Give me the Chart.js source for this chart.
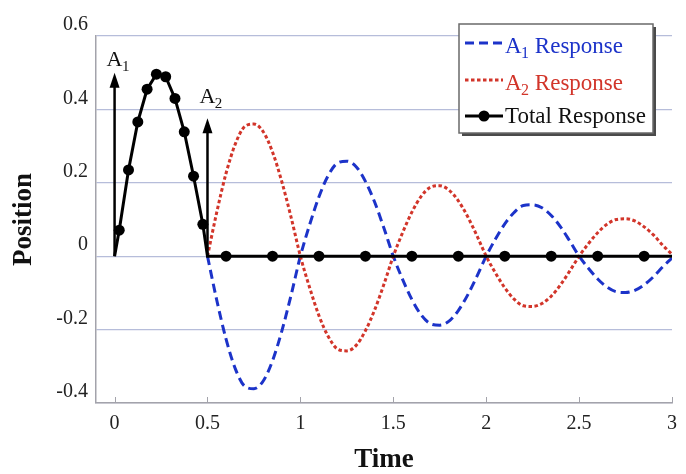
<!DOCTYPE html>
<html>
<head>
<meta charset="utf-8">
<script src="https://cdn.jsdelivr.net/npm/chart.js@4.4.1/dist/chart.umd.min.js"></script>
<style>
  html, body { margin: 0; padding: 0; background: #fff; }
  #wrap { width: 686px; height: 474px; position: relative; }
</style>
</head>
<body>
<div id="wrap"><canvas id="chart"></canvas></div>
<script>
// response curves
const respTimes = [0.5, 0.55, 0.6, 0.65, 0.7, 0.75, 0.8, 0.85, 0.9, 0.95,
  1.0, 1.05, 1.1, 1.15, 1.2, 1.25, 1.3, 1.35, 1.4, 1.45,
  1.5, 1.55, 1.6, 1.65, 1.7, 1.75, 1.8, 1.85, 1.9, 1.95,
  2.0, 2.05, 2.1, 2.15, 2.2, 2.25, 2.3, 2.35, 2.4, 2.45,
  2.5, 2.55, 2.6, 2.65, 2.7, 2.75, 2.8, 2.85, 2.9, 2.95, 3.0];
const a1Values = [0, -0.12, -0.226, -0.307, -0.354, -0.361, -0.34, -0.285, -0.204, -0.106,
  0, 0.086, 0.162, 0.22, 0.254, 0.259, 0.244, 0.204, 0.147, 0.076,
  0, -0.063, -0.118, -0.16, -0.184, -0.188, -0.177, -0.148, -0.106, -0.055,
  0, 0.047, 0.088, 0.119, 0.138, 0.14, 0.132, 0.111, 0.08, 0.041,
  0, -0.033, -0.062, -0.084, -0.097, -0.099, -0.093, -0.078, -0.056, -0.029, -0.005];
const a2Values = [0, 0.12, 0.226, 0.306, 0.353, 0.36, 0.339, 0.284, 0.203, 0.106,
  0, -0.086, -0.162, -0.219, -0.253, -0.258, -0.243, -0.203, -0.146, -0.076,
  0, 0.064, 0.12, 0.163, 0.188, 0.192, 0.18, 0.151, 0.108, 0.056,
  0, -0.046, -0.086, -0.117, -0.135, -0.137, -0.129, -0.109, -0.078, -0.04,
  0, 0.034, 0.064, 0.087, 0.1, 0.102, 0.096, 0.08, 0.058, 0.03, 0.005];

const totalTimes = [0, 0.025, 0.075, 0.125, 0.175, 0.225, 0.275, 0.325, 0.375, 0.425, 0.475, 0.5,
  0.6, 0.85, 1.1, 1.35, 1.6, 1.85, 2.1, 2.35, 2.6, 2.85, 3.0];
const totalValues = [0, 0.071, 0.235, 0.366, 0.455, 0.496, 0.489, 0.43, 0.339, 0.218, 0.087, 0,
  0, 0, 0, 0, 0, 0, 0, 0, 0, 0, 0];

const seriesLabels = ['A1 Response', 'A2 Response', 'Total Response'];

const impulseTimes = [0, 0.5];
const impulseSizes = [0.5, 0.376];
const impulseLabels = ['A1', 'A2'];

const xTicks = [0, 0.5, 1, 1.5, 2, 2.5, 3];
const yTicks = [-0.4, -0.2, 0, 0.2, 0.4, 0.6];
const yTickLabels = ['-0.4', '-0.2', '0', '0.2', '0.4', '0.6'];

const SERIF = '"Liberation Serif", "DejaVu Serif", serif';
const BLUE = '#1c33c9';
const RED = '#d2352a';

function pts(xs, ys) {
  return xs.map(function(x, i) { return { x: x, y: ys[i] }; });
}

// "A1 Response" -> A, subscript 1, " Response"
function drawRich(ctx, text, x, y, size, color) {
  ctx.fillStyle = color;
  ctx.textBaseline = 'alphabetic';
  ctx.textAlign = 'left';
  const m = /^A(\d)(.*)$/.exec(text);
  ctx.font = size + 'px ' + SERIF;
  if (!m) { ctx.fillText(text, x, y); return; }
  ctx.fillText('A', x, y);
  x += ctx.measureText('A').width - 0.5;
  const sub = Math.round(size * 0.68);
  ctx.font = sub + 'px ' + SERIF;
  ctx.fillText(m[1], x, y + size * 0.22);
  x += ctx.measureText(m[1]).width;
  ctx.font = size + 'px ' + SERIF;
  ctx.fillText(m[2], x, y);
}

const extrasPlugin = {
  id: 'extras',
  afterDatasetsDraw: function(chart) {
    const ctx = chart.ctx;
    const xs = chart.scales.x, ys = chart.scales.y;
    const area = chart.chartArea;
    ctx.save();

    // inward tick marks on the time axis
    ctx.strokeStyle = '#a3a3ab';
    ctx.lineWidth = 1;
    xTicks.forEach(function(t) {
      const px = Math.round(xs.getPixelForValue(t)) + 0.5;
      ctx.beginPath();
      ctx.moveTo(px, area.bottom);
      ctx.lineTo(px, area.bottom - 6);
      ctx.stroke();
    });

    // impulse arrows
    const labelDy = [-7, -15];
    impulseTimes.forEach(function(t, i) {
      const px = xs.getPixelForValue(t);
      const y0 = ys.getPixelForValue(0);
      const y1 = ys.getPixelForValue(impulseSizes[i]);
      ctx.strokeStyle = '#000';
      ctx.fillStyle = '#000';
      ctx.lineWidth = 2.5;
      ctx.beginPath();
      ctx.moveTo(px, y0);
      ctx.lineTo(px, y1 + 10);
      ctx.stroke();
      ctx.beginPath();
      ctx.moveTo(px, y1);
      ctx.lineTo(px - 5, y1 + 15);
      ctx.lineTo(px + 5, y1 + 15);
      ctx.closePath();
      ctx.fill();
      drawRich(ctx, impulseLabels[i], px - 8, y1 + labelDy[i], 22, '#111');
    });

    // legend box with drop shadow
    const bx = 459, by = 24, bw = 194, bh = 109;
    ctx.fillStyle = '#4a4a4a';
    ctx.fillRect(bx + 3, by + 3, bw, bh);
    ctx.fillStyle = '#fff';
    ctx.fillRect(bx, by, bw, bh);
    ctx.strokeStyle = '#6a6a6a';
    ctx.lineWidth = 1.5;
    ctx.strokeRect(bx, by, bw, bh);

    const order = [2, 1, 0];
    const lineY = [43, 80, 116];
    const baseY = [53, 90, 123];
    const textColors = [BLUE, RED, '#111'];
    order.forEach(function(di, row) {
      const ds = chart.data.datasets[di];
      ctx.save();
      ctx.strokeStyle = ds.borderColor;
      ctx.lineWidth = ds.borderWidth;
      ctx.setLineDash(ds.borderDash || []);
      ctx.beginPath();
      ctx.moveTo(465, lineY[row]);
      ctx.lineTo(503, lineY[row]);
      ctx.stroke();
      ctx.restore();
      if (di === 0) {
        ctx.fillStyle = '#000';
        ctx.beginPath();
        ctx.arc(484, lineY[row], 5.5, 0, Math.PI * 2);
        ctx.fill();
      }
      drawRich(ctx, ds.label, 505, baseY[row], 23, textColors[row]);
    });
    ctx.restore();
  }
};

const ctx = document.getElementById('chart').getContext('2d');
new Chart(ctx, {
  type: 'line',
  data: {
    datasets: [
      {
        label: seriesLabels[2],
        data: pts(totalTimes, totalValues),
        borderColor: '#000',
        backgroundColor: '#000',
        borderWidth: 3,
        tension: 0,
        pointRadius: function(c) {
          const t = totalTimes[c.dataIndex];
          return (t === 0 || t === 0.5 || t === 3.0) ? 0 : 5.5;
        },
        pointBorderWidth: 0,
        pointBackgroundColor: '#000'
      },
      {
        label: seriesLabels[1],
        data: pts(respTimes, a2Values),
        borderColor: RED,
        borderWidth: 3,
        borderDash: [3.5, 2.5],
        cubicInterpolationMode: 'monotone',
        pointRadius: 0
      },
      {
        label: seriesLabels[0],
        data: pts(respTimes, a1Values),
        borderColor: BLUE,
        borderWidth: 3,
        borderDash: [9, 5],
        cubicInterpolationMode: 'monotone',
        pointRadius: 0
      }
    ]
  },
  options: {
    responsive: true,
    maintainAspectRatio: false,
    animation: false,
    layout: { padding: { top: 36, right: 9, bottom: 0, left: 0 } },
    plugins: {
      legend: { display: false },
      tooltip: { enabled: false }
    },
    scales: {
      x: {
        type: 'linear',
        min: -0.1,
        max: 3.0,
        afterBuildTicks: function(scale) {
          scale.ticks = xTicks.map(function(v) { return { value: v }; });
        },
        afterFit: function(scale) { scale.height = 71; },
        grid: { display: false, drawTicks: false },
        border: { display: true, color: '#a3a3ab', width: 1.5 },
        ticks: {
          padding: 9,
          color: '#222',
          font: { family: SERIF, size: 20 },
          maxRotation: 0,
          callback: function(v) { return String(v); }
        },
        title: {
          display: true,
          text: 'Time',
          color: '#111',
          font: { family: SERIF, size: 27, weight: 'bold' },
          padding: { top: 0, bottom: -2 }
        }
      },
      y: {
        min: -0.4,
        max: 0.6,
        afterBuildTicks: function(scale) {
          scale.ticks = yTicks.map(function(v) { return { value: v }; });
        },
        afterFit: function(scale) { scale.width = 96; },
        grid: { color: '#b6bdda', lineWidth: 1.3, drawTicks: false },
        border: { display: true, color: '#a3a3ab', width: 1.5 },
        ticks: {
          padding: 8,
          labelOffset: -11,
          color: '#222',
          font: { family: SERIF, size: 20 },
          callback: function(v, i) { return yTickLabels[i]; }
        },
        title: {
          display: true,
          text: 'Position',
          color: '#111',
          font: { family: SERIF, size: 27, weight: 'bold' },
          padding: { top: 8, bottom: 0 }
        }
      }
    }
  },
  plugins: [extrasPlugin]
});
</script>
</body>
</html>
